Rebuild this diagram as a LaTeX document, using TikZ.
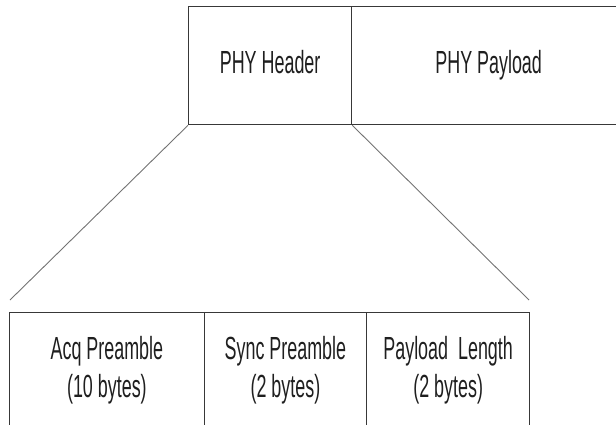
\documentclass[tikz,border=0pt]{standalone}
\usepackage{fontspec}
\setmainfont{Liberation Sans}[FakeStretch=0.56]
\begin{document}
\begin{tikzpicture}[x=1pt,y=-1pt,
  field/.style={draw=black!78, line width=1.3pt, inner sep=0pt, minimum height=#1},
  field/.default=118pt,
  fanline/.style={draw=black!55, line width=0.9pt},
  lbl/.style={font=\fontsize{32}{38}\selectfont, text=black!88, inner sep=0pt, anchor=base}]
  \useasboundingbox (0,0) rectangle (616,425);
  \clip (0,0) rectangle (616,425);

  % frame: header and payload
  \node[field, minimum width=163pt, anchor=north west] (hdr) at (188,6) {};
  \node[field, minimum width=274pt, anchor=north west] (pay) at (351,6) {};
  \node[lbl] at (hdr.center |- 0,74) {PHY Header};
  \node[lbl] at (pay.center |- 0,74) {PHY Payload};

  % header fields
  \node[field=160pt, minimum width=194.5pt, anchor=north west] (acq) at (9,312) {};
  \node[field=160pt, minimum width=162.5pt, anchor=north west] (sync) at (203.5,312) {};
  \node[field=160pt, minimum width=163pt, anchor=north west] (plen) at (366,312) {};
  \node[lbl] at (acq.center |- 0,359) {Acq Preamble};
  \node[lbl] at (acq.center |- 0,397) {(10 bytes)};
  \node[lbl] at (sync.center |- 0,359) {Sync Preamble};
  \node[lbl] at (sync.center |- 0,397) {(2 bytes)};
  \node[lbl] at (plen.center |- 0,359) {Payload\ \ Length};
  \node[lbl] at (plen.center |- 0,397) {(2 bytes)};

  % expansion lines
  \coordinate (fanL) at (10,300);
  \coordinate (fanR) at (529,300);
  \draw[fanline] (hdr.south west) -- (fanL);
  \draw[fanline] (hdr.south east) -- (fanR);
\end{tikzpicture}
\end{document}
